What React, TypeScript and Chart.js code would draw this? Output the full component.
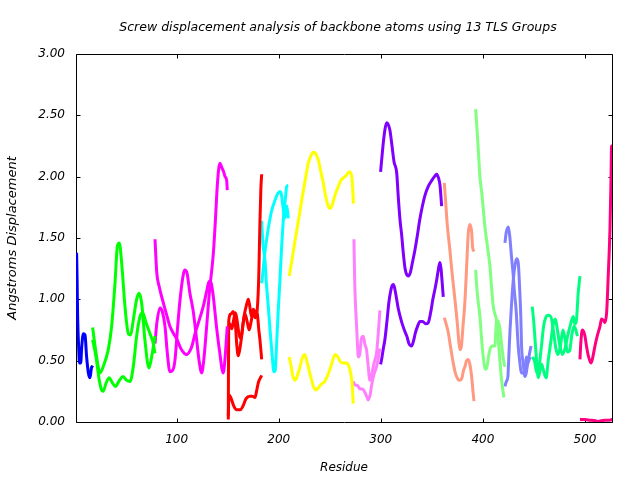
import React, { useEffect, useRef } from "react";
import { Chart, registerables } from "chart.js";

Chart.register(...registerables);

const TITLE = "Screw displacement analysis of backbone atoms using 13 TLS Groups";
const X_LABEL = "Residue";
const Y_LABEL = "Angstroms Displacement";
const xTicks = [100, 200, 300, 400, 500];
const yTicks = [0, 0.5, 1, 1.5, 2, 2.5, 3];

type P = [number, number];

// TLS group 1 (blue)
const blueA: P[] = [[2, 1.38], [2.5, 1.15], [3, 0.86], [4, 0.61], [4.8, 0.48], [6, 0.48], [7, 0.61], [8.6, 0.72], [10.2, 0.71], [11.8, 0.53], [13.5, 0.4], [15.1, 0.36], [16.5, 0.44], [17.7, 0.46]];
// TLS group 2 (green)
const greenA: P[] = [[17.7, 0.77], [21.6, 0.53], [24.9, 0.4], [28, 0.45], [33, 0.59], [36.3, 0.78], [39.6, 1.13], [41.9, 1.43], [43.8, 1.46], [46.1, 1.3], [49.4, 0.94], [52.7, 0.72], [54.9, 0.71], [57.5, 0.83], [60.8, 1.0], [63.1, 1.05], [65.7, 0.97], [68.9, 0.67], [72.9, 0.44], [75.5, 0.53], [78.8, 0.7]];
const greenB: P[] = [[17.7, 0.67], [21, 0.53], [24.2, 0.34], [26.5, 0.26], [28, 0.25], [31, 0.32], [34, 0.36], [37, 0.32], [40, 0.29], [44, 0.34], [47.5, 0.37], [51, 0.34], [54.3, 0.33], [57.5, 0.45], [60.8, 0.7], [64.1, 0.86], [66.7, 0.89], [70, 0.81], [73.9, 0.72], [77.1, 0.64], [78.7, 0.56]];
// TLS group 3 (magenta)
const magentaA: P[] = [[78.8, 1.49], [80.5, 1.22], [83, 1.1], [87, 0.97], [90, 0.88], [93.4, 0.78], [97, 0.72], [100, 0.68], [104, 0.6], [107.5, 0.56], [110, 0.55], [113, 0.58], [115, 0.62], [118, 0.72], [121, 0.8], [126, 0.94], [129, 1.05], [131.5, 1.14], [133, 1.15], [135.5, 1.05], [139, 0.78], [142, 0.58], [145.6, 0.4], [147, 0.48], [149.6, 0.78]];
const magentaB: P[] = [[78.8, 0.64], [80.5, 0.8], [83.7, 0.93], [86, 0.9], [88.6, 0.78], [91, 0.55], [93.4, 0.41], [96, 0.42], [98.3, 0.5], [101, 0.78], [103, 0.97], [105.5, 1.15], [108, 1.24], [110, 1.22], [113, 1.05], [116.3, 0.9], [119.6, 0.67], [122, 0.5], [124.5, 0.4], [126.5, 0.5], [129.4, 0.78], [132, 1.05], [136, 1.38], [138, 1.65], [140, 1.95], [142.4, 2.11], [144, 2.08], [146, 2.04], [147.5, 2.0], [149, 1.97], [149.6, 1.89]];
// TLS group 4 (red)
const redA: P[] = [[150.6, 0.02], [151, 0.82], [153, 0.88], [155.5, 0.9], [157.5, 0.8], [159, 0.62], [160.4, 0.54], [162, 0.6], [164, 0.72], [166, 0.86], [168.6, 0.96], [170.2, 1.0], [171.5, 0.95], [173.4, 0.86], [175, 0.92], [177, 0.9], [179, 0.88], [180.5, 0.75], [181.6, 0.67], [183.3, 0.51]];
const redB: P[] = [[150.6, 0.75], [152, 0.8], [154, 0.76], [156, 0.84], [157.5, 0.89], [159, 0.84], [161, 0.72], [163, 0.68], [165, 0.8], [167, 0.88], [169, 0.82], [171, 0.75], [173, 0.82], [175, 0.9], [177, 0.85], [179, 0.92], [180.5, 1.2], [181.5, 1.6], [182.5, 1.9], [183.3, 2.02]];
const redC: P[] = [[150.6, 0.05], [151.2, 0.22], [153, 0.2], [156, 0.13], [159, 0.1], [162.3, 0.1], [165, 0.13], [168, 0.19], [171.7, 0.21], [174, 0.21], [176.7, 0.2], [178.5, 0.26], [180, 0.32], [183.3, 0.38]];
// TLS group 5 (cyan)
const cyanA: P[] = [[183.3, 1.64], [184.5, 1.45], [186.5, 1.32], [188, 1.12], [189.8, 0.94], [191.5, 0.75], [193.5, 0.55], [195.3, 0.41], [196.5, 0.42], [198, 0.65], [199.5, 0.9], [201.2, 1.16], [203, 1.45], [205, 1.7], [206.5, 1.82], [207.8, 1.92], [209.3, 1.93]];
const cyanB: P[] = [[183.3, 1.13], [184.5, 1.22], [186, 1.35], [188, 1.48], [190, 1.59], [193, 1.72], [196, 1.8], [199, 1.86], [201.2, 1.88], [202.5, 1.86], [204.5, 1.73], [205.6, 1.66], [207, 1.72], [208, 1.76], [209.3, 1.66]];
// TLS group 6 (yellow)
const yellowA: P[] = [[210.3, 1.19], [213, 1.32], [216, 1.48], [218.5, 1.6], [221, 1.73], [224, 1.88], [226.5, 2.0], [229, 2.11], [231.5, 2.17], [233.8, 2.2], [236, 2.19], [238.7, 2.14], [241, 2.05], [243.6, 1.95], [246, 1.84], [248.5, 1.76], [250.2, 1.74], [252, 1.76], [253.5, 1.8], [256, 1.87], [258.4, 1.92], [261, 1.97], [263.3, 1.99], [266, 2.01], [269.1, 2.04], [271.4, 2.01], [272.5, 1.9], [273.2, 1.78]];
const yellowB: P[] = [[210.3, 0.53], [212, 0.46], [214, 0.37], [216, 0.34], [218, 0.37], [220.5, 0.44], [223, 0.52], [225.5, 0.55], [228, 0.48], [231, 0.38], [234, 0.29], [236.5, 0.26], [239, 0.28], [242, 0.31], [245, 0.33], [248, 0.38], [251, 0.45], [253.5, 0.52], [255.5, 0.55], [258, 0.53], [260.5, 0.49], [263, 0.48], [266, 0.48], [268.5, 0.46], [270.5, 0.4], [272, 0.3], [273, 0.15]];
// TLS group 7 (light pink)
const pinkA: P[] = [[273.7, 1.49], [274.3, 1.2], [275, 1.0], [276.3, 0.78], [277.2, 0.62], [278, 0.53], [279.5, 0.56], [281, 0.68], [282.8, 0.7], [284.5, 0.63], [286, 0.59], [287.5, 0.47], [289.3, 0.34], [291, 0.38], [292.6, 0.45], [294, 0.5], [295.8, 0.56], [297.5, 0.72], [299.1, 0.91]];
const pinkB: P[] = [[273, 0.33], [275, 0.3], [277, 0.3], [279.6, 0.27], [282, 0.27], [284.5, 0.24], [286.5, 0.2], [287.7, 0.18], [289.5, 0.22], [291, 0.3], [293, 0.38], [295.8, 0.45], [297.5, 0.52], [299, 0.6]];
// TLS group 8 (purple)
const purpleA: P[] = [[299.8, 2.04], [301, 2.15], [302.5, 2.28], [304, 2.38], [305.7, 2.44], [307, 2.43], [308.9, 2.38], [311, 2.25], [313, 2.12], [315.6, 2.03], [317, 1.85], [318.8, 1.65], [320.5, 1.52], [322, 1.38], [323.8, 1.25], [325.5, 1.2], [327, 1.19], [329, 1.22], [331, 1.3], [333.4, 1.4], [336, 1.53], [338, 1.64], [340, 1.73], [343, 1.84], [346.5, 1.92], [350, 1.97], [352.5, 2.0], [354.7, 2.02], [356.5, 1.99], [358, 1.93], [359.6, 1.76]];
const purpleB: P[] = [[299.8, 0.47], [301, 0.52], [302.5, 0.6], [304, 0.67], [306, 0.82], [308, 0.98], [309.5, 1.06], [311, 1.11], [312.5, 1.12], [314.5, 1.05], [317, 0.93], [319, 0.86], [321, 0.8], [323.5, 0.74], [325.5, 0.7], [327.5, 0.64], [330.2, 0.62], [332, 0.66], [334, 0.73], [336, 0.78], [338.4, 0.82], [341, 0.82], [344, 0.8], [346.5, 0.81], [349, 0.9], [351, 1.0], [353, 1.08], [355, 1.17], [356.5, 1.25], [357.9, 1.3], [359, 1.25], [360, 1.15], [361.2, 1.02]];
// TLS group 9 (salmon)
const salmonA: P[] = [[362.2, 1.95], [363.5, 1.8], [365, 1.62], [367.7, 1.4], [370, 1.2], [372.6, 1.0], [375, 0.8], [376.5, 0.65], [377.5, 0.59], [379, 0.62], [380.5, 0.78], [382.4, 0.98], [384, 1.25], [385.7, 1.54], [387.3, 1.61], [389, 1.55], [390, 1.42], [391.3, 1.39]];
const salmonB: P[] = [[362.2, 0.85], [364, 0.8], [366.1, 0.73], [368, 0.63], [371, 0.48], [373, 0.4], [375.5, 0.35], [377.5, 0.34], [379.5, 0.36], [381, 0.42], [382.4, 0.45], [384, 0.5], [385.7, 0.51], [387.3, 0.47], [389, 0.37], [390.3, 0.25], [391.3, 0.17]];
// TLS group 10 (light green)
const lightGreenA: P[] = [[392.9, 2.55], [394, 2.42], [395.5, 2.22], [397.1, 2.0], [399, 1.86], [400.5, 1.73], [402, 1.59], [404.5, 1.43], [406.9, 1.27], [408.5, 1.1], [410.2, 0.94], [411.8, 0.88], [413.4, 0.83], [415, 0.68], [416.7, 0.5], [418.5, 0.33], [420.6, 0.2]];
const lightGreenB: P[] = [[392.9, 1.24], [394.5, 1.05], [397.1, 0.86], [399, 0.65], [400.5, 0.52], [402.5, 0.43], [404, 0.45], [405.5, 0.53], [406.9, 0.59], [409, 0.62], [411.8, 0.62], [412.7, 0.75], [413.4, 0.83], [415, 0.82], [416.7, 0.76], [418.5, 0.62], [420, 0.52], [421.6, 0.45]];
// TLS group 11 (periwinkle)
const periA: P[] = [[421.6, 1.46], [423, 1.55], [425, 1.59], [426.5, 1.5], [428, 1.35], [429.8, 1.19], [431, 1.05], [432.5, 0.92], [434.6, 0.62], [436, 0.5], [437.9, 0.4], [439.5, 0.4], [441.2, 0.42], [442.5, 0.53], [444, 0.48], [445.5, 0.55], [447.2, 0.62]];
const periB: P[] = [[421.6, 0.29], [423, 0.33], [424.5, 0.37], [425.5, 0.55], [426.6, 0.75], [428, 0.95], [429.8, 1.16], [431.5, 1.28], [433.1, 1.33], [434.6, 1.3], [436.3, 1.04], [437.2, 0.85], [437.9, 0.62], [439.5, 0.48], [441.2, 0.37], [442.5, 0.4], [443.8, 0.47], [445, 0.5], [446.2, 0.53]];
// TLS group 12 (spring green)
const springA: P[] = [[448.4, 0.94], [450, 0.8], [451.7, 0.6], [454.3, 0.36], [457.5, 0.47], [460, 0.4], [462, 0.36], [464, 0.5], [466.5, 0.65], [469, 0.8], [471, 0.84], [473, 0.75], [475.5, 0.62], [478, 0.55], [480.5, 0.6], [483, 0.7], [486, 0.8], [488.5, 0.86], [490, 0.8], [491.5, 0.82], [493.4, 1.05], [495.1, 1.19]];
const springB: P[] = [[448.4, 0.53], [450.5, 0.5], [453, 0.4], [455, 0.45], [457.4, 0.62], [459.5, 0.78], [461.5, 0.85], [464, 0.87], [466.5, 0.86], [469, 0.75], [471.5, 0.6], [473.5, 0.55], [476, 0.62], [478.5, 0.75], [481, 0.65], [483, 0.57], [485, 0.58], [487.3, 0.72], [489.5, 0.78], [492.7, 0.7]];
// TLS group 13 (deep pink)
const deepPinkA: P[] = [[495.1, 0.51], [496, 0.65], [497.4, 0.75], [498.5, 0.74], [500, 0.7], [501.5, 0.62], [503.3, 0.54], [505.9, 0.48], [507.5, 0.52], [509.8, 0.62], [512, 0.7], [514.7, 0.78], [516.3, 0.84], [518, 0.83], [519.6, 0.81], [521.3, 0.9], [522.8, 1.19], [524.5, 1.57], [525.5, 1.97], [526.1, 2.25], [527, 2.22]];
const deepPinkB: P[] = [[495.1, 0.02], [500, 0.02], [505, 0.015], [510, 0.01], [513, 0.005], [516, 0.01], [520, 0.015], [524, 0.015], [527, 0.02]];

const groupColors = ["#0000ff", "#00ff00", "#ff00ff", "#ff0000", "#00ffff", "#ffff00", "#ff80ff", "#8000ff", "#ff9980", "#80ff80", "#8080ff", "#00ff80", "#ff0080"];
const groupCurves: P[][][] = [
  [blueA],
  [greenA, greenB],
  [magentaA, magentaB],
  [redA, redB, redC],
  [cyanA, cyanB],
  [yellowA, yellowB],
  [pinkA, pinkB],
  [purpleA, purpleB],
  [salmonA, salmonB],
  [lightGreenA, lightGreenB],
  [periA, periB],
  [springA, springB],
  [deepPinkA, deepPinkB],
];

const FONT = "'DejaVu Sans', sans-serif";

const framePlugin = {
  id: "gnuFrame",
  beforeDatasetsDraw(chart: any) {
    const { ctx, chartArea: a, scales } = chart;
    ctx.save();
    ctx.strokeStyle = "#000";
    ctx.lineWidth = 1;
    const L = a.left + 0.5, R = a.right + 0.5, T = a.top + 0.5, B = a.bottom + 0.5;
    ctx.beginPath();
    ctx.rect(L, T, R - L, B - T);
    const tl = 4;
    xTicks.forEach((v) => {
      const px = Math.round(scales.x.getPixelForValue(v)) + 0.5;
      ctx.moveTo(px, B); ctx.lineTo(px, B - tl);
      ctx.moveTo(px, T); ctx.lineTo(px, T + tl);
    });
    yTicks.forEach((v) => {
      const py = Math.round(scales.y.getPixelForValue(v)) + 0.5;
      ctx.moveTo(L, py); ctx.lineTo(L + tl, py);
      ctx.moveTo(R, py); ctx.lineTo(R - tl, py);
    });
    ctx.stroke();
    ctx.restore();
  },
  afterDraw(chart: any) {
    const { ctx, chartArea: a } = chart;
    ctx.save();
    ctx.fillStyle = "#000";
    ctx.font = "italic 12.5px " + FONT;
    ctx.textAlign = "center";
    ctx.textBaseline = "alphabetic";
    ctx.fillText(TITLE, (a.left + a.right) / 2 - 6, 31);
    ctx.restore();
  },
};

export default function App() {
  const ref = useRef<HTMLCanvasElement | null>(null);
  useEffect(() => {
    if (!ref.current) return;
    const datasets: any[] = [];
    groupCurves.forEach((curves, gi) => {
      curves.forEach((c, ci) => {
        datasets.push({
          label: `Group ${gi + 1}.${ci + 1}`,
          data: c.map(([x, y]) => ({ x, y })),
          borderColor: groupColors[gi],
          backgroundColor: groupColors[gi],
          borderWidth: 3,
          pointRadius: 0,
          fill: false,
          cubicInterpolationMode: "monotone",
        });
      });
    });
    const chart = new Chart(ref.current, {
      type: "line",
      data: { datasets },
      plugins: [framePlugin],
      options: {
        animation: false,
        responsive: false,
        devicePixelRatio: 1,
        layout: { padding: { top: 54, right: 28, left: 0, bottom: 0 } },
        plugins: { legend: { display: false }, tooltip: { enabled: false }, title: { display: false } },
        scales: {
          x: {
            type: "linear",
            min: 1.4,
            max: 526.5,
            grid: { display: false, drawTicks: false },
            border: { display: false },
            afterBuildTicks: (s: any) => { s.ticks = xTicks.map((v) => ({ value: v })); },
            afterFit: (s: any) => { s.height = 58; },
            ticks: { padding: 11, color: "#000", font: { family: FONT, size: 12, style: "italic" }, callback: (v: any) => String(v), maxRotation: 0 },
            title: { display: true, text: X_LABEL, color: "#000", font: { family: FONT, size: 12, style: "italic" }, padding: { top: 0, bottom: 5 } },
          },
          y: {
            type: "linear",
            min: 0,
            max: 3,
            grid: { display: false, drawTicks: false },
            border: { display: false },
            afterBuildTicks: (s: any) => { s.ticks = yTicks.map((v) => ({ value: v })); },
            afterFit: (s: any) => { s.width = 76; },
            ticks: { padding: 11, color: "#000", font: { family: FONT, size: 12, style: "italic" }, callback: (v: any) => Number(v).toFixed(2) },
            title: { display: true, text: Y_LABEL, color: "#000", font: { family: FONT, size: 13, style: "italic" }, padding: { top: 4.7, bottom: 0 } },
          },
        },
      } as any,
    });
    return () => chart.destroy();
  }, []);
  return (
    <div style={{ position: "fixed", left: 0, top: 0, width: 640, height: 480, background: "#fff" }}>
      <canvas ref={ref} width={640} height={480} style={{ width: 640, height: 480, display: "block" }} />
    </div>
  );
}
